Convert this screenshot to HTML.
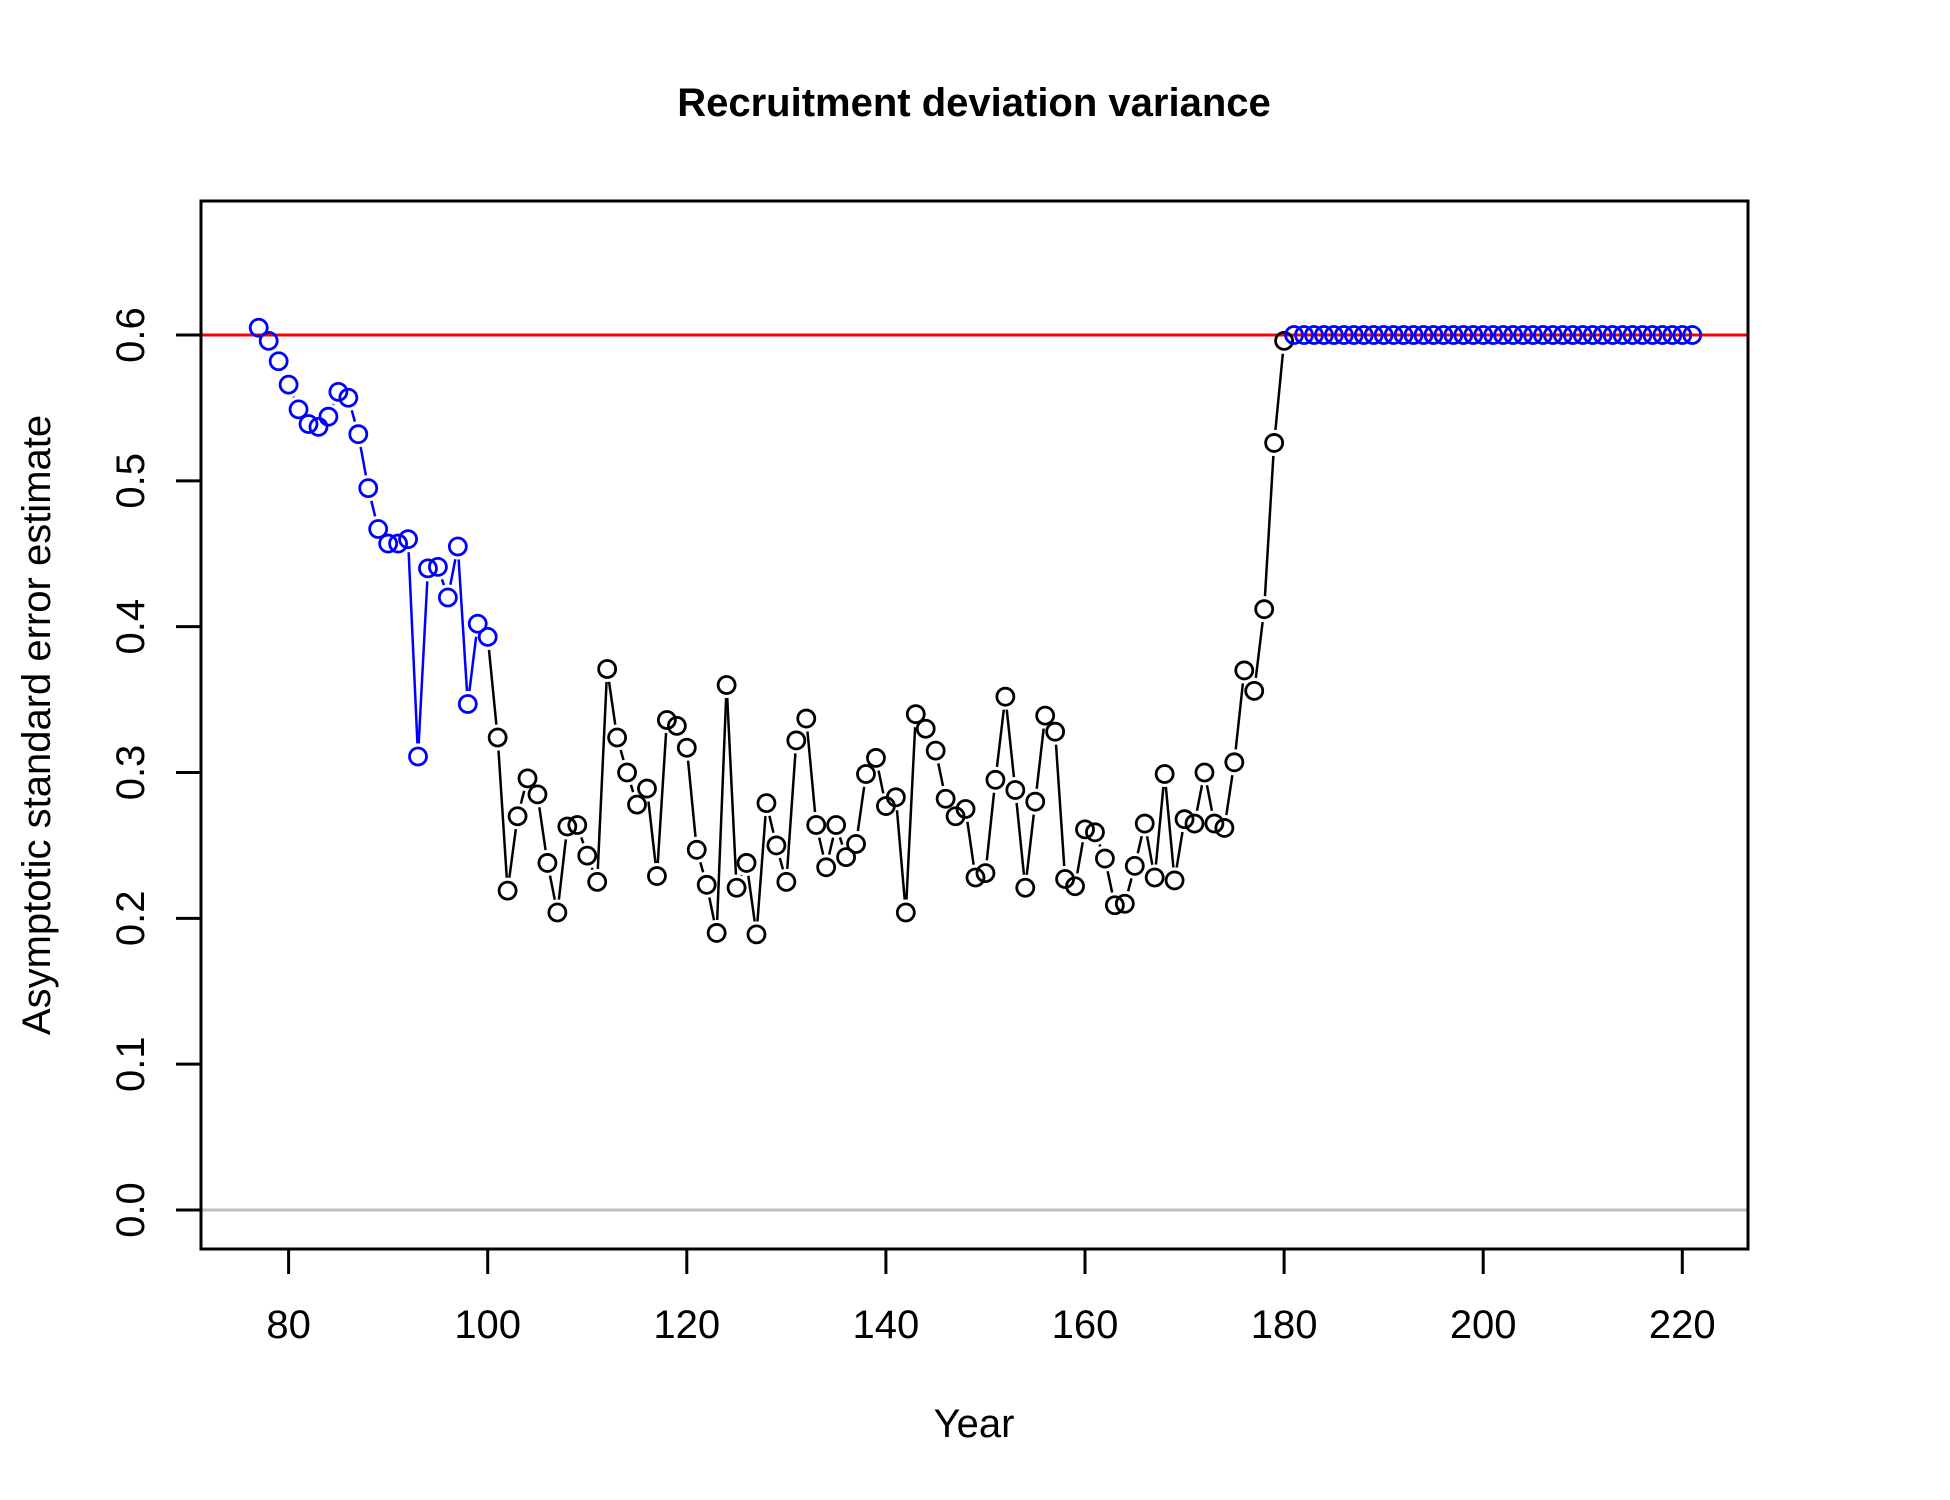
<!DOCTYPE html>
<html><head><meta charset="utf-8"><style>body{margin:0;background:#fff}svg{display:block;font-family:"Liberation Sans",Arial,sans-serif}</style></head>
<body>
<svg id="chart" width="1950" height="1500" viewBox="0 0 1950 1500" xmlns="http://www.w3.org/2000/svg">
<rect width="1950" height="1500" fill="#fff"/>
<text x="974" y="116" text-anchor="middle" font-size="40" font-weight="bold">Recruitment deviation variance</text>
<text x="974" y="1437" text-anchor="middle" font-size="40">Year</text>
<text transform="translate(50,725) rotate(-90)" text-anchor="middle" font-size="40">Asymptotic standard error estimate</text>
<g id="axes"></g>
<g id="marks"></g>
<rect x="201" y="201" width="1547" height="1048" fill="none" stroke="#000" stroke-width="3"/>
</svg>
<script>
const years = [];
for (let y = 77; y <= 221; y++) years.push(y);
const earlyValues = [0.605,0.596,0.582,0.566,0.549,0.539,0.537,0.544,0.561,0.557,0.532,0.495,0.467,0.457,0.457,0.460,0.311,0.440,0.441,0.420,0.455,0.347,0.402,0.393];
const mainValues = [0.324,0.219,0.270,0.296,0.285,0.238,0.204,0.263,0.264,0.243,0.225,0.371,0.324,0.300,0.278,0.289,0.229,0.336,0.332,0.317,0.247,0.223,0.190,0.360,0.221,0.238,0.189,0.279,0.250,0.225,0.322,0.337,0.264,0.235,0.264,0.242,0.251,0.299,0.310,0.277,0.283,0.204,0.340,0.330,0.315,0.282,0.270,0.275,0.228,0.231,0.295,0.352,0.288,0.221,0.280,0.339,0.328,0.227,0.222,0.261,0.259,0.241,0.209,0.210,0.236,0.265,0.228,0.299,0.226,0.268,0.265,0.300,0.265,0.262,0.307,0.370,0.356,0.412,0.526,0.596];
const lateValues = [0.600,0.600,0.600,0.600,0.600,0.600,0.600,0.600,0.600,0.600,0.600,0.600,0.600,0.600,0.600,0.600,0.600,0.600,0.600,0.600,0.600,0.600,0.600,0.600,0.600,0.600,0.600,0.600,0.600,0.600,0.600,0.600,0.600,0.600,0.600,0.600,0.600,0.600,0.600,0.600,0.600];
const xTicks = [80,100,120,140,160,180,200,220];
const yTicks = [0.0,0.1,0.2,0.3,0.4,0.5,0.6];
const yTickLabels = ["0.0","0.1","0.2","0.3","0.4","0.5","0.6"];
const refLine = 0.6;

const NS = "http://www.w3.org/2000/svg";
const xS = v => 288.6 + (v - 80) * 9.955;
const yS = v => 1210 - v * 1458.3;
const axes = document.getElementById('axes');
const marks = document.getElementById('marks');
function mk(tag, attrs, parent) {
  const e = document.createElementNS(NS, tag);
  for (const k in attrs) e.setAttribute(k, attrs[k]);
  parent.appendChild(e);
  return e;
}
xTicks.forEach(t => {
  const l = mk('line', {x1: xS(t), x2: xS(t), y1: 1249, y2: 1274, stroke: '#000', 'stroke-width': 3}, axes);
  
  
  const tx = mk('text', {x: xS(t), y: 1338, 'text-anchor': 'middle', 'font-size': 40}, axes);
  tx.textContent = t;
  
  
});
yTicks.forEach((t, i) => {
  const l = mk('line', {x1: 176, x2: 201, y1: yS(t), y2: yS(t), stroke: '#000', 'stroke-width': 3}, axes);
  
  
  const tx = mk('text', {transform: `translate(144,${yS(t)}) rotate(-90)`, 'text-anchor': 'middle', 'font-size': 40}, axes);
  tx.textContent = yTickLabels[i];
  
  
});
const zl = mk('line', {x1: 201, x2: 1748, y1: yS(0), y2: yS(0), stroke: '#bebebe', 'stroke-width': 3}, marks);


const rl = mk('line', {x1: 201, x2: 1748, y1: yS(refLine), y2: yS(refLine), stroke: '#ff0000', 'stroke-width': 3}, marks);



const values = earlyValues.concat(mainValues, lateValues);
const colorOf = i => (i < earlyValues.length || i >= earlyValues.length + mainValues.length) ? '#0000ff' : '#000000';
const gap = 13;
for (let i = 0; i < values.length - 1; i++) {
  const x1 = xS(years[i]), y1 = yS(values[i]), x2 = xS(years[i+1]), y2 = yS(values[i+1]);
  const d = Math.hypot(x2 - x1, y2 - y1);
  if (d <= 2 * gap) continue;
  const ux = (x2 - x1) / d, uy = (y2 - y1) / d;
  const s = mk('line', {x1: x1 + ux*gap, y1: y1 + uy*gap, x2: x2 - ux*gap, y2: y2 - uy*gap, stroke: colorOf(i+1), 'stroke-width': 2.5}, marks);
  
  
}
values.forEach((v, i) => {
  const c = mk('circle', {cx: xS(years[i]), cy: yS(v), r: 8.5, fill: 'none', stroke: colorOf(i), 'stroke-width': 2.8}, marks);
  
  
});
</script>
</body></html>
